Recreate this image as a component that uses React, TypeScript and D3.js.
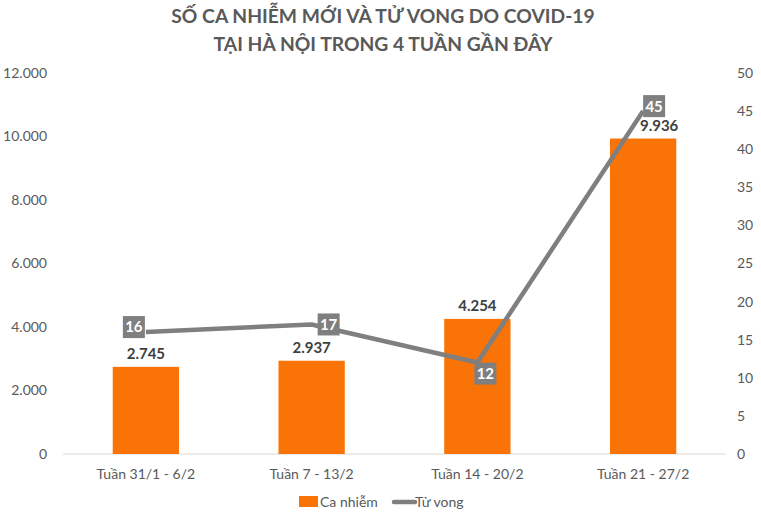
import React from 'react';
import { scaleBand, scaleLinear, line } from 'd3';

const categories = ['Tuần 31/1 - 6/2', 'Tuần 7 - 13/2', 'Tuần 14 - 20/2', 'Tuần 21 - 27/2'];
const cases = [2745, 2937, 4254, 9936];
const deaths = [16, 17, 12, 45];
const leftTicks = [0, 2000, 4000, 6000, 8000, 10000, 12000];
const rightTicks = [0, 5, 10, 15, 20, 25, 30, 35, 40, 45, 50];
// where each label sits relative to its mark
const deathLabelOffset = [[-12, -5], [17, 0], [8, 11], [11, -5]];
const caseLabelShift = [0, 0, 0, 16];

const W = 761;
const H = 516;
const margin = { top: 73, right: 35, bottom: 62, left: 63 };
const FONT = 'Lato, "Open Sans", sans-serif';
const GRAY_TEXT = '#595959';
const ORANGE = '#F97306';
const LINE_GRAY = '#7F7F7F';

const fmt = (v: number) => v.toString().replace(/\B(?=(\d{3})+(?!\d))/g, '.');

const App = () => {
    const x = scaleBand()
        .domain(categories)
        .range([margin.left, W - margin.right])
        .paddingInner(0.6)
        .paddingOuter(0.3);
    const yLeft = scaleLinear().domain([0, 12000]).range([H - margin.bottom, margin.top]);
    const yRight = scaleLinear().domain([0, 50]).range([H - margin.bottom, margin.top]);
    const cx = (c: string) => (x(c) as number) + x.bandwidth() / 2;
    const baseY = yLeft(0);

    const path = line<number>()
        .x((_, i) => cx(categories[i]))
        .y((d) => yRight(d))(deaths);

    return (
        <svg width={W} height={H} style={{ position: 'absolute', left: 0, top: 0, background: '#fff' }}>
            <text x={383} y={23} textAnchor="middle" fontFamily={FONT} fontWeight="bold" fontSize={19.3} fill={GRAY_TEXT}>
                SỐ CA NHIỄM MỚI VÀ TỬ VONG DO COVID-19
            </text>
            <text x={383} y={51} textAnchor="middle" fontFamily={FONT} fontWeight="bold" fontSize={19.3} fill={GRAY_TEXT}>
                TẠI HÀ NỘI TRONG 4 TUẦN GẦN ĐÂY
            </text>

            {leftTicks.map((t) => (
                <text key={'l' + t} x={47} y={yLeft(t)} dy="0.35em" textAnchor="end" fontFamily={FONT} fontSize={14} fill={GRAY_TEXT}>
                    {fmt(t)}
                </text>
            ))}
            {rightTicks.map((t) => (
                <text key={'r' + t} x={737} y={yRight(t)} dy="0.35em" textAnchor="start" fontFamily={FONT} fontSize={14} fill={GRAY_TEXT}>
                    {t}
                </text>
            ))}

            <line x1={margin.left} x2={W - margin.right} y1={baseY} y2={baseY} stroke="#D9D9D9" strokeWidth={1} />

            {categories.map((c, i) => (
                <rect key={c} x={x(c)} y={yLeft(cases[i])} width={x.bandwidth()} height={baseY - yLeft(cases[i])} fill={ORANGE} />
            ))}
            {categories.map((c, i) => (
                <text key={'v' + c} x={cx(c) + caseLabelShift[i]} y={yLeft(cases[i]) - 8} textAnchor="middle" fontFamily={FONT} fontWeight="bold" fontSize={15} fill="#404040">
                    {fmt(cases[i])}
                </text>
            ))}

            <path d={path || ''} fill="none" stroke={LINE_GRAY} strokeWidth={4.5} strokeLinejoin="round" />

            {categories.map((c, i) => {
                const lx = cx(c) + deathLabelOffset[i][0];
                const ly = yRight(deaths[i]) + deathLabelOffset[i][1];
                return (
                    <g key={'d' + c}>
                        <rect x={lx - 11} y={ly - 11} width={22} height={22} fill={LINE_GRAY} />
                        <text x={lx} y={ly} dy="0.36em" textAnchor="middle" fontFamily={FONT} fontWeight="bold" fontSize={15} fill="#fff">
                            {deaths[i]}
                        </text>
                    </g>
                );
            })}

            {categories.map((c) => (
                <text key={'x' + c} x={cx(c)} y={474} dy="0.35em" textAnchor="middle" fontFamily={FONT} fontSize={14} fill={GRAY_TEXT}>
                    {c}
                </text>
            ))}

            <rect x={299} y={496} width={19} height={11} fill={ORANGE} />
            <text x={320} y={502} dy="0.35em" fontFamily={FONT} fontSize={14} fill={GRAY_TEXT}>Ca nhiễm</text>
            <line x1={394} x2={415} y1={502} y2={502} stroke={LINE_GRAY} strokeWidth={4.5} strokeLinecap="round" />
            <text x={415} y={502} dy="0.35em" fontFamily={FONT} fontSize={14} fill={GRAY_TEXT}>Tử vong</text>
        </svg>
    );
};

export default App;
